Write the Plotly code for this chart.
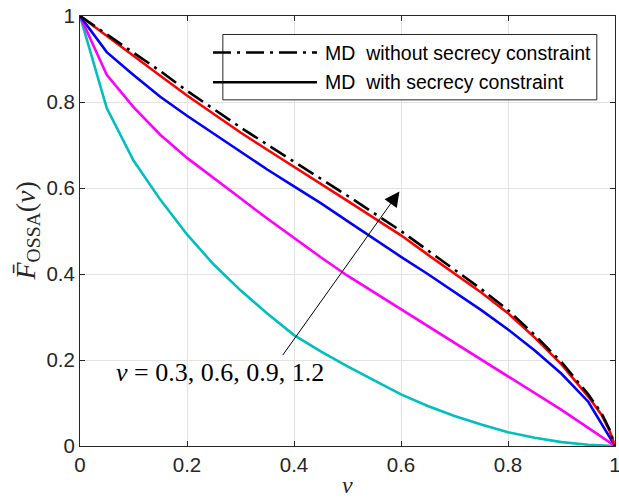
import plotly.graph_objects as go

# ---- data ----
nu = [0, 0.05, 0.1, 0.15, 0.2, 0.25, 0.3, 0.35, 0.4, 0.45, 0.5,
      0.55, 0.6, 0.65, 0.7, 0.75, 0.8, 0.85, 0.9, 0.95, 1.0]
nu_fine = [0, 0.05, 0.1, 0.15, 0.2, 0.25, 0.3, 0.35, 0.4, 0.45, 0.5,
           0.55, 0.6, 0.65, 0.7, 0.75, 0.8, 0.85, 0.9, 0.95, 0.975, 0.99, 1.0]

v_03 = [1.0, 0.786, 0.664, 0.573, 0.492, 0.422, 0.362, 0.308, 0.258, 0.220, 0.185,
        0.152, 0.120, 0.093, 0.070, 0.050, 0.032, 0.019, 0.009, 0.003, 0.0]
v_06 = [1.0, 0.863, 0.788, 0.724, 0.670, 0.622, 0.576, 0.529, 0.483, 0.439, 0.396,
        0.357, 0.319, 0.281, 0.241, 0.202, 0.163, 0.123, 0.084, 0.042, 0.0]
v_09 = [1.0, 0.916, 0.863, 0.812, 0.768, 0.726, 0.685, 0.643, 0.604, 0.565, 0.523,
        0.481, 0.440, 0.400, 0.359, 0.316, 0.271, 0.222, 0.168, 0.103, 0.0]
v_12 = [1.0, 0.953, 0.907, 0.861, 0.815, 0.772, 0.729, 0.689, 0.650, 0.610, 0.570,
        0.530, 0.490, 0.445, 0.402, 0.357, 0.309, 0.252, 0.190, 0.115, 0.072, 0.035, 0.0]
no_secrecy = [1.0, 0.958, 0.916, 0.872, 0.826, 0.783, 0.741, 0.701, 0.662, 0.622, 0.582,
              0.541, 0.500, 0.455, 0.411, 0.365, 0.316, 0.258, 0.195, 0.120, 0.076, 0.038, 0.0]

tick_vals = [0, 0.2, 0.4, 0.6, 0.8, 1]
tick_text = ["0", "0.2", "0.4", "0.6", "0.8", "1"]
legend_labels = ["MD  without secrecy constraint", "MD  with secrecy constraint"]
param_label = "<i>v</i> = 0.3, 0.6, 0.9, 1.2"

# ---- styles ----
AX = "#262626"
GRID = "#e3e3e3"
LW = 2.6
DASHDOT = "18px,6px,3px,6px"

fig = go.Figure()
series = [(nu, v_03, "#00BFBF"), (nu, v_06, "#FF00FF"), (nu, v_09, "#0000FF"), (nu_fine, v_12, "#FF0000")]
for xs, ys, col in series:
    fig.add_trace(go.Scatter(x=xs, y=ys, mode="lines", line=dict(color=col, width=LW),
                             showlegend=False, hoverinfo="skip"))
fig.add_trace(go.Scatter(x=nu_fine, y=no_secrecy, mode="lines",
                         line=dict(color="black", width=LW, dash=DASHDOT),
                         showlegend=False, hoverinfo="skip"))

axis_common = dict(range=[0, 1], tickvals=tick_vals, ticktext=tick_text,
                   showgrid=True, gridcolor=GRID, gridwidth=1, zeroline=False,
                   showline=True, linecolor=AX, linewidth=1, mirror="ticks",
                   ticks="inside", ticklen=5, tickcolor=AX, tickwidth=1,
                   ticklabeloverflow="allow", automargin=False,
                   tickfont=dict(family="Liberation Sans, Arial, sans-serif", size=20.5, color=AX))
fig.update_xaxes(**axis_common)
fig.update_yaxes(**axis_common)

# ---- manual legend ----
lx0, lx1, ly0, ly1 = 0.267, 0.966, 0.805, 0.957
fig.add_shape(type="rect", xref="paper", yref="paper", x0=lx0, x1=lx1, y0=ly0, y1=ly1,
              line=dict(color=AX, width=1), fillcolor="white", layer="above")
rows = [0.915, 0.846]
dashes = [DASHDOT, "solid"]
for ry, dsh, lab in zip(rows, dashes, legend_labels):
    fig.add_shape(type="line", xref="paper", yref="paper", x0=0.2486, x1=0.443, y0=ry, y1=ry,
                  line=dict(color="black", width=LW, dash=dsh), layer="above")
    fig.add_annotation(xref="paper", yref="paper", x=0.4536, y=ry, xanchor="left", yanchor="middle",
                       text=lab, showarrow=False,
                       font=dict(family="Liberation Sans, Arial, sans-serif", size=19.5, color="black"))

# ---- arrow + parameter label ----
fig.add_annotation(x=0.597, y=0.592, ax=0.377, ay=0.208, xref="x", yref="y", axref="x", ayref="y",
                   text="", showarrow=True, arrowhead=2, arrowsize=3, arrowwidth=1, arrowcolor="black")
fig.add_annotation(x=0.262, y=0.170, xref="x", yref="y", text=param_label, showarrow=False,
                   font=dict(family="Liberation Serif, serif", size=26, color="black"))

# ---- axis titles ----
fig.add_annotation(xref="paper", yref="paper", x=-0.1, y=0.5, textangle=-90,
                   text="<i>F̄</i><sub>OSSA</sub>(<i>ν</i>)", showarrow=False,
                   xanchor="center", yanchor="middle",
                   font=dict(family="Liberation Serif, serif", size=28, color=AX))
fig.add_annotation(xref="paper", yref="paper", x=0.5, y=-0.09, text="<i>ν</i>", showarrow=False,
                   xanchor="center", yanchor="middle",
                   font=dict(family="Liberation Serif, serif", size=24, color=AX))

fig.update_layout(width=619, height=500, margin=dict(l=80, r=4, t=16, b=54),
                  paper_bgcolor="white", plot_bgcolor="white", showlegend=False)

fig.write_html("out.html")
